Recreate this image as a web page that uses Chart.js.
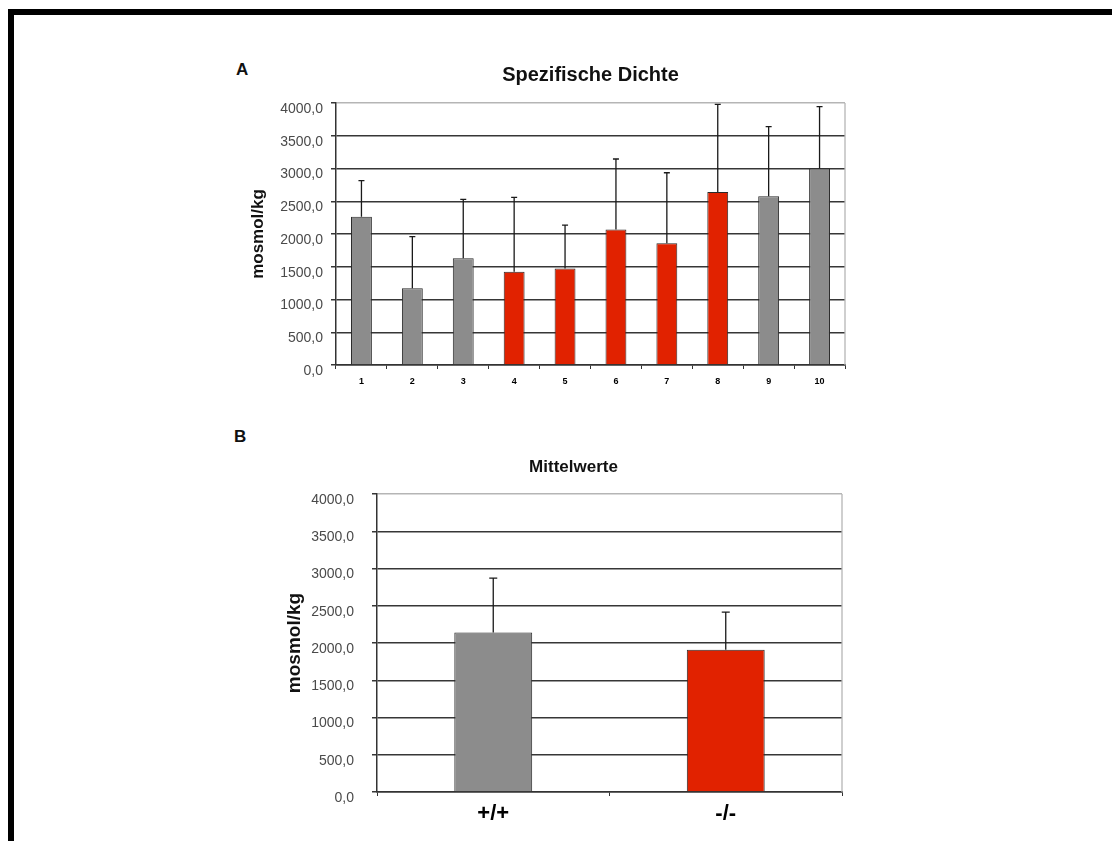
<!DOCTYPE html>
<html lang="de">
<head>
<meta charset="utf-8">
<title>Spezifische Dichte / Mittelwerte</title>
<script src="https://cdn.jsdelivr.net/npm/chart.js@4.4.1/dist/chart.umd.min.js"></script>
<style>
  html, body { margin: 0; padding: 0; background: #fff; width: 1112px; height: 841px; overflow: hidden; }
  #rahmen { position: absolute; left: 8px; top: 9px; width: 1200px; height: 900px;
            border-top: 6px solid #000; border-left: 6px solid #000; }
  .buchstabe { position: absolute; font: bold 17px "Liberation Sans", Arial, sans-serif; color: #111; }
  canvas { position: absolute; }
</style>
</head>
<body>
<div id="rahmen"></div>
<div class="buchstabe" style="left:236px; top:60px;">A</div>
<div class="buchstabe" style="left:234px; top:427px;">B</div>
<canvas id="graficoA" width="720" height="345" style="left:230px; top:50px;"></canvas>
<canvas id="graficoB" width="640" height="397" style="left:260px; top:440px;"></canvas>

<script>
// Panel A: spezifische Dichte je Tier (Mittelwert + SD)
const tiereA = ['1', '2', '3', '4', '5', '6', '7', '8', '9', '10'];
const dichteA = [2265, 1170, 1630, 1425, 1475, 2070, 1860, 2640, 2575, 3000];
const sdA = [550, 790, 900, 1135, 660, 1075, 1075, 1340, 1065, 945];
const genotypA = ['+/+', '+/+', '+/+', '-/-', '-/-', '-/-', '-/-', '-/-', '+/+', '+/+'];

// Panel B: Mittelwerte je Genotyp
const genotypenB = ['+/+', '-/-'];
const mittelB = [2140, 1910];
const sdB = [730, 505];

const yMax = 4000;
const yStep = 500;

const farben = { '+/+': '#8c8c8c', '-/-': '#e12200' };
const SCHRIFT = '"Liberation Sans", Arial, Helvetica, sans-serif';

// Fehlerbalken (nur nach oben) + rechter Rand der Zeichenfläche
const fehlerbalken = {
    id: 'fehlerbalken',
    beforeDatasetsDraw(chart) {
        const { ctx, chartArea } = chart;
        ctx.save();
        ctx.strokeStyle = '#b5b5b5';
        ctx.lineWidth = 1.3;
        ctx.beginPath();
        ctx.moveTo(chartArea.right, chartArea.top);
        ctx.lineTo(chartArea.right, chartArea.bottom);
        ctx.stroke();
        ctx.restore();
    },
    afterDatasetsDraw(chart, args, opts) {
        const ctx = chart.ctx;
        const y = chart.scales.y;
        const ds = chart.data.datasets[0];
        const meta = chart.getDatasetMeta(0);
        ctx.save();
        ctx.strokeStyle = '#1a1a1a';
        ctx.lineWidth = 1.3;
        meta.data.forEach((bar, i) => {
            const oben = y.getPixelForValue(ds.data[i] + ds.fehler[i]);
            ctx.beginPath();
            ctx.moveTo(bar.x, bar.y);
            ctx.lineTo(bar.x, oben);
            ctx.moveTo(bar.x - opts.kappe, oben);
            ctx.lineTo(bar.x + opts.kappe, oben);
            ctx.stroke();
        });
        ctx.restore();
    }
};

function optionen(cfg) {
    return {
        responsive: false,
        animation: false,
        events: [],
        layout: { padding: { left: cfg.links, right: cfg.rechts, top: 0, bottom: 0 } },
        plugins: {
            legend: { display: false },
            tooltip: { enabled: false },
            title: {
                display: true,
                text: cfg.titel,
                fullSize: cfg.vollBreite,
                color: '#111',
                font: { family: SCHRIFT, size: cfg.titelSchrift, weight: 'bold' },
                padding: { top: cfg.titelOben, bottom: cfg.titelUnten }
            },
            fehlerbalken: { kappe: cfg.kappe }
        },
        scales: {
            x: {
                grid: { drawOnChartArea: false, drawTicks: true, tickLength: 4, color: '#333', lineWidth: 1 },
                border: { color: '#333', width: 1.5 },
                ticks: {
                    color: '#000',
                    padding: cfg.xAbstand,
                    font: { family: SCHRIFT, size: cfg.xSchrift, weight: 'bold' }
                },
                afterFit: s => { s.height = cfg.xHoehe; }
            },
            y: {
                min: 0,
                max: yMax,
                ticks: {
                    stepSize: yStep,
                    color: '#4a4a4a',
                    padding: cfg.yAbstand,
                    labelOffset: 6,
                    font: { family: SCHRIFT, size: 14 },
                    callback: v => v.toFixed(1).replace('.', ',')
                },
                grid: {
                    color: c => (c.tick && c.tick.value === yMax) ? '#b5b5b5' : '#363636',
                    lineWidth: 1.5,
                    tickLength: 5,
                    tickColor: '#363636'
                },
                border: { color: '#333', width: 1.5 },
                title: {
                    display: true,
                    text: 'mosmol/kg',
                    color: '#111',
                    font: { family: SCHRIFT, size: cfg.achsSchrift, weight: 'bold' },
                    padding: { top: cfg.achsTitel, bottom: 0 }
                },
                afterFit: s => { s.width = cfg.yBreite; }
            }
        }
    };
}

new Chart(document.getElementById('graficoA').getContext('2d'), {
    type: 'bar',
    data: {
        labels: tiereA,
        datasets: [{
            data: dichteA,
            fehler: sdA,
            backgroundColor: genotypA.map(g => farben[g]),
            borderColor: '#2a2a2a',
            borderWidth: 1,
            barPercentage: 0.41,
            categoryPercentage: 1
        }]
    },
    options: optionen({
        titel: 'Spezifische Dichte', vollBreite: false, titelSchrift: 20,
        links: 0, rechts: 105, yBreite: 106, xHoehe: 30,
        titelOben: 13, titelUnten: 16, achsTitel: 17.8, achsSchrift: 17,
        xSchrift: 9, xAbstand: 7, yAbstand: 8, kappe: 3
    }),
    plugins: [fehlerbalken]
});

new Chart(document.getElementById('graficoB').getContext('2d'), {
    type: 'bar',
    data: {
        labels: genotypenB,
        datasets: [{
            data: mittelB,
            fehler: sdB,
            backgroundColor: genotypenB.map(g => farben[g]),
            borderColor: '#2a2a2a',
            borderWidth: 1,
            barPercentage: 0.335,
            categoryPercentage: 1
        }]
    },
    options: optionen({
        titel: 'Mittelwerte', vollBreite: true, titelSchrift: 17,
        links: 45, rechts: 58, yBreite: 72, xHoehe: 45,
        titelOben: 16.8, titelUnten: 16.8, achsTitel: -21.4, achsSchrift: 19,
        xSchrift: 22, xAbstand: 5, yAbstand: 18, kappe: 4
    }),
    plugins: [fehlerbalken]
});
</script>
</body>
</html>
